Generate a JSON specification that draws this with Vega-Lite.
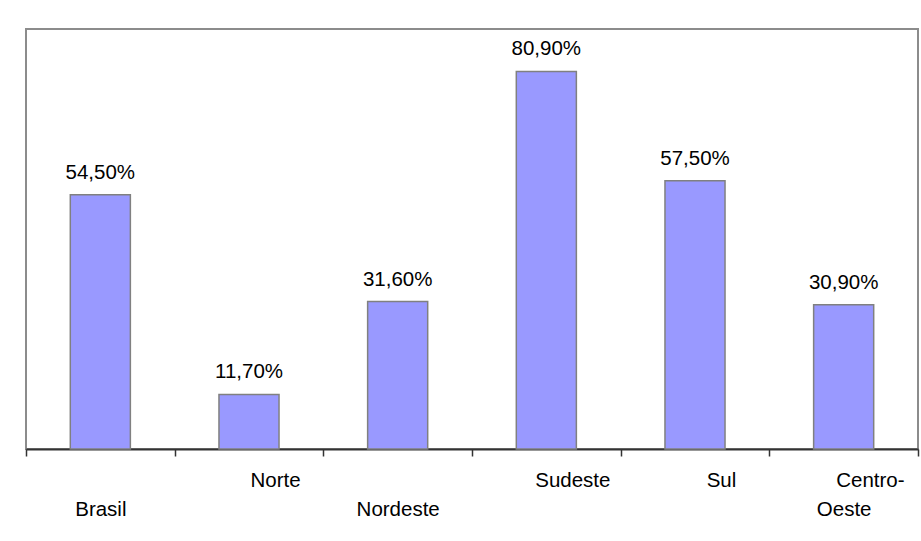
{
  "$schema": "https://vega.github.io/schema/vega-lite/v6.json",
  "width": 892,
  "height": 420,
  "autosize": {"type": "none"},
  "padding": {"left": 26, "top": 29, "right": 3, "bottom": 92},
  "background": "white",
  "config": {
    "locale": {
      "number": {"decimal": ",", "thousands": ".", "grouping": [3], "currency": ["R$", ""]}
    },
    "view": {"stroke": "#8c8c8c", "strokeWidth": 2},
    "font": "Liberation Sans"
  },
  "data": {
    "values": [
      {"regiao": "Brasil", "taxa": 0.545},
      {"regiao": "Norte", "taxa": 0.117},
      {"regiao": "Nordeste", "taxa": 0.316},
      {"regiao": "Sudeste", "taxa": 0.809},
      {"regiao": "Sul", "taxa": 0.575},
      {"regiao": "Centro-Oeste", "taxa": 0.309}
    ]
  },
  "encoding": {
    "x": {
      "field": "regiao",
      "type": "nominal",
      "sort": null,
      "scale": {"paddingInner": 0, "paddingOuter": 0},
      "axis": {
        "title": null,
        "labelAngle": 0,
        "tickBand": "extent",
        "domainColor": "#333333",
        "domainWidth": 2,
        "tickColor": "#333333",
        "tickWidth": 1.5,
        "tickSize": 7,
        "labelFont": "Liberation Sans",
        "labelFontSize": 20.5,
        "labelColor": "black",
        "labelBaseline": "top",
        "labelPadding": 14,
        "labelLineHeight": 29,
        "labelOffset": {"condition": {"test": "indexof(['Norte','Sudeste','Sul'], datum.value) >= 0", "value": 26}, "value": 0},
        "labelExpr": "datum.value == 'Brasil' ? ['', 'Brasil'] : datum.value == 'Nordeste' ? ['', 'Nordeste'] : datum.value == 'Centro-Oeste' ? ['\u200b\u2003\u2003\u2007Centro-', 'Oeste'] : [datum.value]"
      }
    },
    "y": {
      "field": "taxa",
      "type": "quantitative",
      "scale": {"domain": [0, 0.9], "nice": false},
      "axis": null
    }
  },
  "layer": [
    {
      "mark": {"type": "bar", "width": {"band": 0.404}, "fill": "#9999ff", "stroke": "#808080", "strokeWidth": 1.5}
    },
    {
      "mark": {"type": "text", "baseline": "alphabetic", "dy": -16, "fontSize": 20.5, "font": "Liberation Sans", "color": "black"},
      "encoding": {
        "text": {"field": "taxa", "type": "quantitative", "format": ".2%"}
      }
    }
  ]
}
